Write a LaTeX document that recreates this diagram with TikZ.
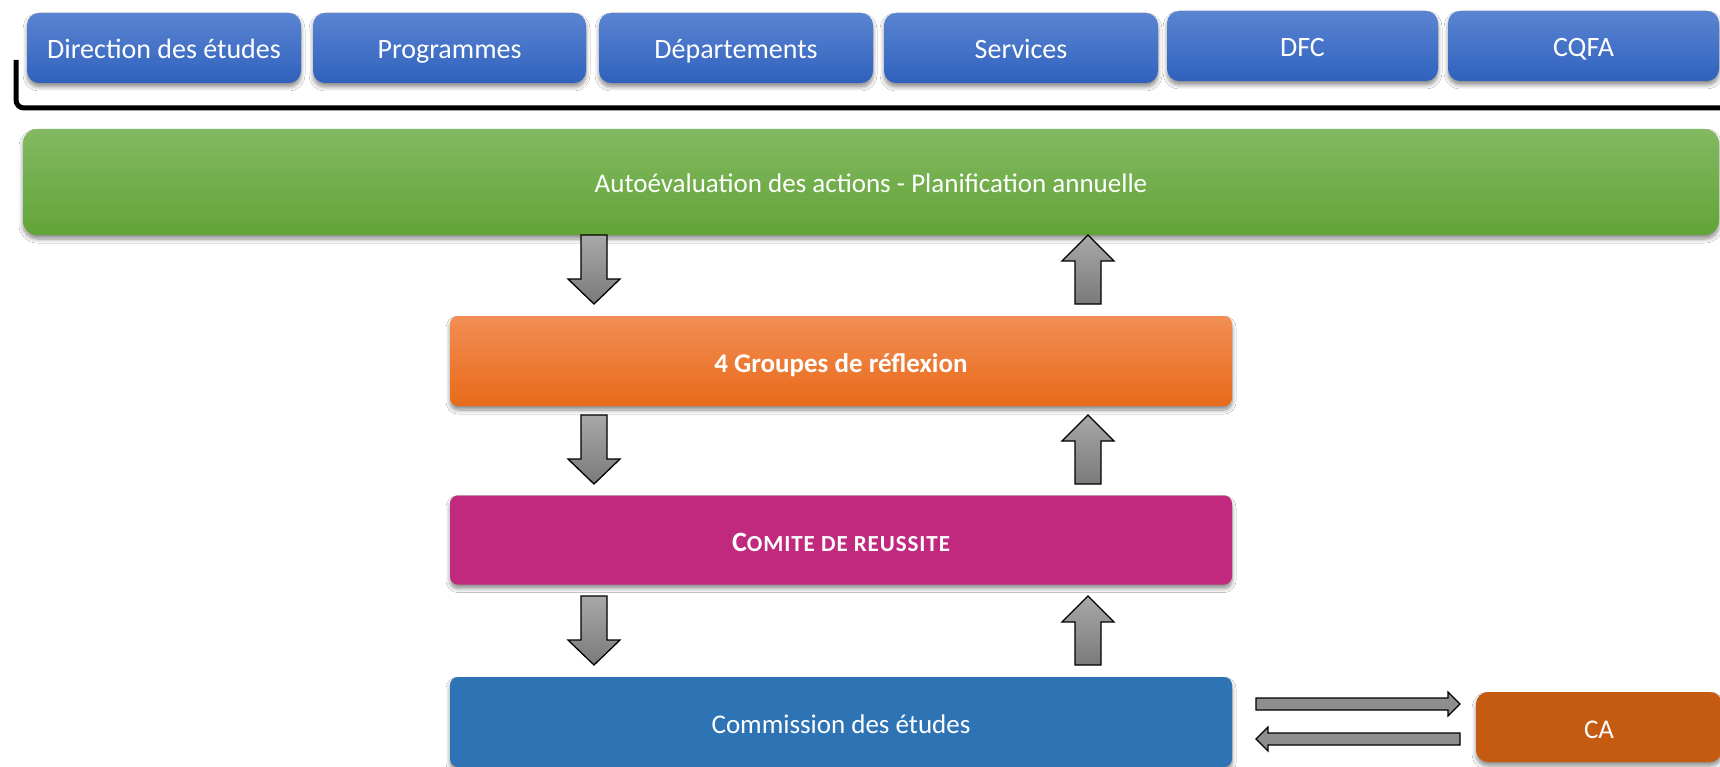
\documentclass[tikz,border=0pt]{standalone}
\usepackage{fontspec}
\setmainfont{Carlito}
\usetikzlibrary{shadows.blur}
\definecolor{tbTop}{HTML}{5B84D2}
\definecolor{tbBot}{HTML}{2F62BD}
\definecolor{grTop}{HTML}{83B962}
\definecolor{grBot}{HTML}{62A437}
\definecolor{orTop}{HTML}{F28E55}
\definecolor{orBot}{HTML}{E86A19}
\definecolor{magc}{HTML}{C0297E}
\definecolor{commc}{HTML}{2E74B5}
\definecolor{cac}{HTML}{C55A11}
\definecolor{arTop}{HTML}{A8A8A8}
\definecolor{arBot}{HTML}{7A7A7A}
\definecolor{arH}{HTML}{8E8E8E}
\begin{document}
\begin{tikzpicture}[x=1pt,y=-1pt,
  font=\fontsize{27}{32}\selectfont,
  shad/.style={blur shadow={shadow xshift=0pt,shadow yshift=-4pt,shadow blur steps=6,shadow opacity=45,shadow blur radius=4pt}},
  boxbase/.style={draw=none,text=white,inner sep=0pt,text height=22pt,text depth=0pt,shad},
  topbox/.style={boxbase,rounded corners=12pt,top color=tbTop,bottom color=tbBot,minimum height=70pt,font=\fontsize{28}{33}\selectfont},
  greenbox/.style={boxbase,rounded corners=14pt,top color=grTop,bottom color=grBot},
  orangebox/.style={boxbase,rounded corners=8pt,top color=orTop,bottom color=orBot},
  magbox/.style={boxbase,rounded corners=8pt,fill=magc},
  commbox/.style={boxbase,rounded corners=8pt,fill=commc},
  cabox/.style={boxbase,rounded corners=12pt,fill=cac},
  blockarrow/.style={draw=black,line width=1.3pt,top color=arTop,bottom color=arBot,line join=miter},
  harrow/.style={draw=black,line width=1.2pt,fill=arH},
  downarr/.pic={\path[blockarrow] (-13,0) -- (13,0) -- (13,44) -- (26,44) -- (0,69) -- (-26,44) -- (-13,44) -- cycle;},
  uparr/.pic={\path[blockarrow] (0,0) -- (26,26) -- (13,26) -- (13,69) -- (-13,69) -- (-13,26) -- (-26,26) -- cycle;},
  rightarr/.pic={\path[harrow] (0,-6) -- (192,-6) -- (192,-12) -- (204,0) -- (192,12) -- (192,6) -- (0,6) -- cycle;},
  leftarr/.pic={\path[harrow] (204,-6) -- (12,-6) -- (12,-12) -- (0,0) -- (12,12) -- (12,6) -- (204,6) -- cycle;}
]
\useasboundingbox (0,0) rectangle (1720,767);
\fill[white] (0,0) rectangle (1720,767);

% top row
\node[topbox,minimum width=274pt] (dir) at (164,48) {Direction des études};
\node[topbox,minimum width=273pt] (prog) at (449.5,48) {Programmes};
\node[topbox,minimum width=274pt] (dep) at (736,48) {Départements};
\node[topbox,minimum width=274pt] (serv) at (1021,48) {Services};
\node[topbox,minimum width=271pt] (dfc) at (1302.5,46) {DFC};
\node[topbox,minimum width=271pt] (cqfa) at (1583.5,46) {CQFA};

% bracket
\draw[line width=5pt,rounded corners=8pt] (16,60) -- (16,108) -- (1722,108);

% main column
\node[greenbox,minimum width=1696pt,minimum height=106pt] (auto) at (871,182) {Autoévaluation des actions - Planification annuelle};
\node[orangebox,minimum width=782pt,minimum height=90pt] (grp) at (841,361) {\bfseries 4 Groupes de réflexion};
\node[magbox,minimum width=782pt,minimum height=89pt] (com) at (841,540) {\bfseries\fontsize{28}{33}\selectfont C{\fontsize{23}{27}\selectfont\addfontfeatures{LetterSpace=4}OMITE DE REUSSITE}};
\node[commbox,minimum width=782pt,minimum height=90pt] (cde) at (841,722) {Commission des études};
\node[cabox,minimum width=246pt,minimum height=70pt] (ca) at (1599,727) {CA};

% vertical block arrows
\pic at (594,235) {downarr};
\pic at (1088,235) {uparr};
\pic at (594,415) {downarr};
\pic at (1088,415) {uparr};
\pic at (594,596) {downarr};
\pic at (1088,596) {uparr};

% horizontal arrows
\pic at (1256,704) {rightarr};
\pic at (1256,739) {leftarr};
\end{tikzpicture}
\end{document}
